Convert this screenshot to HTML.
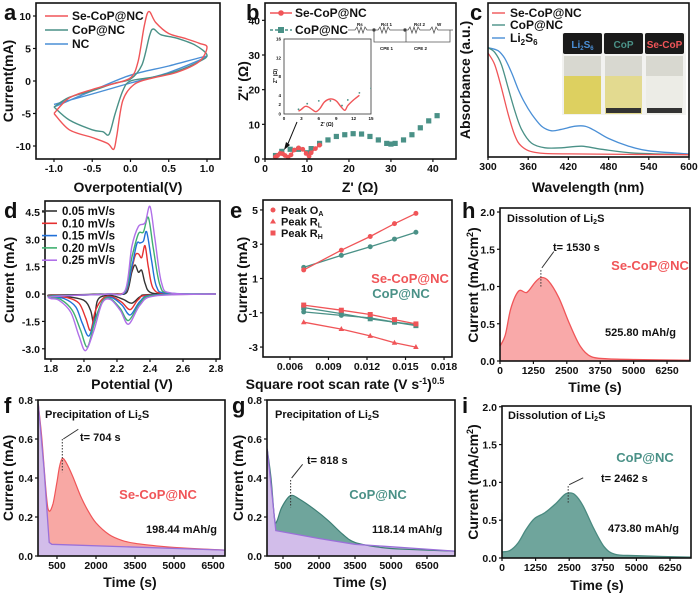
<!DOCTYPE html>
<html><head><meta charset="utf-8"><style>
html,body{margin:0;padding:0;background:#fff;}
svg{display:block;font-family:"Liberation Sans",Arial,sans-serif;}
text{font-weight:bold;}
</style></head><body>
<svg id="fig" width="700" height="596" viewBox="0 0 700 596"></svg>
<script>
// ---------- DATA ----------
const aSe=[[-1,-5],[-0.8,-2.6],[-0.5,-1.3],[-0.25,-0.5],[0,0.5],[0.1,3],[0.18,8.5],[0.24,10.7],[0.33,9],[0.5,7.3],[0.7,6.6],[0.9,5.8],[1,5.2],[0.9,3],[0.6,1.3],[0.3,0.5],[0.05,-0.5],[-0.1,-3],[-0.18,-8.5],[-0.22,-10.5],[-0.3,-9.6],[-0.5,-8.7],[-0.8,-7.5],[-1,-5]];
const aCo=[[-1,-4],[-0.8,-2.5],[-0.5,-1.5],[-0.2,-0.3],[0,0.3],[0.15,2.5],[0.25,7],[0.3,8],[0.4,7.1],[0.6,6.6],[0.85,5.5],[1,4],[0.9,3],[0.6,1.5],[0.3,0.6],[0,0],[-0.1,-1.5],[-0.2,-5],[-0.28,-8.2],[-0.36,-7.8],[-0.5,-7.5],[-0.8,-6],[-1,-4]];
const aNC=[[-1,-4],[-0.5,-1.5],[0,0.9],[0.5,2.3],[1,3.8],[0.5,1.3],[0,-0.3],[-0.5,-2],[-1,-3.6]];
const aXt=[-1,-0.5,0,0.5,1], aYt=[-10,-5,0,5,10];
const bSe=[[2.5,0.6],[3,1],[3.6,1.6],[4.2,1.5],[4.8,1],[5.5,0.5],[6.2,1.2],[7,2.6],[8,3.2],[9,2.8],[9.8,1.6],[10.5,0.8],[11,1.8],[12,3],[13,4]];
const bCo=[[2.5,1],[4,2.2],[6,2.8],[8,2.8],[10,1.8],[11,3],[13,4.5],[15,5.5],[17,6.5],[19,7],[21,7.3],[23,7.2],[25,6.5],[27,5.5],[29,4.5],[30,4.3],[31,4.5],[33,5.5],[35,7],[37,9],[39,11],[41,12.5]];
const bXt=[0,10,20,30,40], bYt=[0,10,20,30,40];
const cSe=[[300,0.675],[310,0.6],[320,0.45],[330,0.28],[340,0.14],[350,0.07],[370,0.03],[420,0.02],[600,0.015]];
const cCo=[[300,0.71],[310,0.68],[320,0.6],[330,0.45],[340,0.3],[350,0.18],[365,0.09],[385,0.06],[410,0.06],[440,0.07],[470,0.05],[520,0.025],[600,0.015]];
const cLi=[[300,0.71],[315,0.69],[325,0.64],[335,0.55],[345,0.44],[355,0.35],[365,0.28],[380,0.2],[395,0.17],[410,0.18],[430,0.2],[445,0.2],[460,0.17],[480,0.12],[510,0.07],[540,0.04],[600,0.02]];
const cXt=[300,360,420,480,540,600];
const d05=[[2.8,0],[2.4,-0.03],[2.34,-0.15],[2.29,-0.5],[2.24,-0.3],[2.18,-0.1],[2.12,-0.1],[2.08,-0.4],[2.06,-1.6],[2.04,-0.9],[2.0,-0.35],[1.9,-0.15],[1.8,-0.1],[1.8,-0.05],[2.0,-0.03],[2.1,0],[2.2,0],[2.26,0.1],[2.29,1.2],[2.31,1.6],[2.33,1.2],[2.35,1.3],[2.37,0.6],[2.4,0.1],[2.5,0],[2.8,0]];
const d10=[[2.8,0],[2.4,-0.05],[2.33,-0.3],[2.28,-0.85],[2.23,-0.45],[2.17,-0.15],[2.12,-0.2],[2.07,-0.9],[2.04,-2.0],[2.01,-1.3],[1.97,-0.5],[1.9,-0.2],[1.8,-0.12],[1.8,-0.08],[2.0,-0.05],[2.15,0],[2.25,0.1],[2.28,1.0],[2.31,2.1],[2.33,2.2],[2.35,2.0],[2.37,2.65],[2.39,1.5],[2.42,0.3],[2.5,0.02],[2.8,0]];
const d15=[[2.8,0],[2.42,-0.05],[2.34,-0.4],[2.28,-1.15],[2.23,-0.6],[2.17,-0.2],[2.12,-0.3],[2.07,-1.3],[2.03,-2.3],[1.99,-1.6],[1.95,-0.7],[1.88,-0.25],[1.8,-0.15],[1.8,-0.1],[2.0,-0.05],[2.15,0],[2.25,0.1],[2.29,1.5],[2.32,2.75],[2.34,2.8],[2.36,2.9],[2.38,3.4],[2.41,1.8],[2.44,0.4],[2.5,0.05],[2.8,0]];
const d20=[[2.8,0],[2.42,-0.08],[2.34,-0.5],[2.27,-1.45],[2.22,-0.8],[2.16,-0.25],[2.11,-0.4],[2.06,-1.7],[2.02,-2.9],[1.98,-2.0],[1.93,-0.9],[1.86,-0.3],[1.8,-0.2],[1.8,-0.12],[2.0,-0.05],[2.15,0],[2.25,0.15],[2.29,2.0],[2.33,3.3],[2.36,3.4],[2.39,4.2],[2.42,2.5],[2.46,0.5],[2.52,0.05],[2.8,0]];
const d25=[[2.8,0],[2.43,-0.1],[2.34,-0.6],[2.27,-1.65],[2.22,-0.9],[2.16,-0.3],[2.11,-0.5],[2.06,-2.0],[2.01,-3.1],[1.97,-2.3],[1.92,-1.0],[1.85,-0.35],[1.8,-0.25],[1.8,-0.15],[2.0,-0.05],[2.15,0],[2.25,0.2],[2.29,2.6],[2.33,3.7],[2.37,3.9],[2.40,4.8],[2.43,3.0],[2.47,0.6],[2.53,0.05],[2.8,0]];
const dXt=[1.8,2.0,2.2,2.4,2.6,2.8], dYt=[-3,-1.5,0,1.5,3,4.5];
const eX=[0.00707,0.01,0.01225,0.01414,0.01581];
const eSeOA=[1.5,2.65,3.45,4.2,4.8], eCoOA=[1.65,2.35,2.85,3.3,3.7];
const eSeRH=[-0.55,-0.85,-1.1,-1.4,-1.65], eCoRH=[-0.7,-1.05,-1.35,-1.55,-1.75];
const eCoRL=[-0.95,-1.15,-1.3,-1.55,-1.7], eSeRL=[-1.55,-1.95,-2.35,-2.75,-3.0];
const eXt=[0.006,0.009,0.012,0.015,0.018], eYt=[-3,-1,1,3,5];
const fCur=[[-220,0.78],[-80,0.6],[100,0.3],[200,0.23],[350,0.27],[500,0.38],[600,0.46],[704,0.5],[850,0.48],[1100,0.41],[1400,0.31],[1700,0.23],[2000,0.17],[2500,0.11],[3000,0.08],[3500,0.065],[4500,0.05],[5500,0.04],[6960,0.03]];
const fBg=[[-220,0.78],[0,0.45],[200,0.07],[300,0.06],[6960,0.03]];
const gCur=[[-160,0.55],[0,0.4],[150,0.19],[250,0.18],[450,0.25],[818,0.31],[1200,0.29],[1800,0.24],[2400,0.18],[3000,0.11],[3500,0.07],[4500,0.045],[5500,0.035],[7660,0.025]];
const gBg=[[-160,0.55],[200,0.13],[2000,0.09],[3500,0.06],[7660,0.025]];
const fXt=[500,2000,3500,5000,6500], fYt=[0,0.2,0.4,0.6,0.8];
const hCur=[[0,0.2],[200,0.35],[400,0.7],[700,0.94],[1000,0.92],[1300,1.05],[1530,1.12],[1800,1.08],[2200,0.85],[2600,0.5],[3000,0.2],[3400,0.06],[4000,0.03],[5000,0.02],[7100,0.01]];
const iCur=[[0,0.08],[300,0.1],[600,0.2],[900,0.38],[1200,0.52],[1600,0.6],[2000,0.72],[2300,0.83],[2462,0.86],[2700,0.84],[3000,0.7],[3400,0.4],[3800,0.15],[4200,0.05],[5000,0.03],[7030,0.01]];
const hXt=[0,1250,2500,3750,5000,6250], hYt=[0,0.5,1.0,1.5,2.0];

// ---------- HELPERS ----------
const NS='http://www.w3.org/2000/svg', svg=document.getElementById('fig');
function mk(tag,attrs,parent){const e=document.createElementNS(NS,tag);for(const k in attrs)e.setAttribute(k,attrs[k]);(parent||svg).appendChild(e);return e;}
function txt(s,x,y,size,opts){opts=opts||{};const t=mk('text',{x:x,y:y,'font-size':size,fill:opts.fill||'#111','text-anchor':opts.anchor||'start'});if(opts.rot)t.setAttribute('transform','rotate(-90 '+x+' '+y+')');t.innerHTML=s;return t;}
function axis(name,box,xd,yd,xt,yt,fx,fy){
  const [x0,x1,y0,y1]=box;
  const sx=v=>x0+(v-xd[0])/(xd[1]-xd[0])*(x1-x0);
  const sy=v=>y1-(v-yd[0])/(yd[1]-yd[0])*(y1-y0);
  const g=mk('g',{});
  
  
  xt.forEach(v=>{mk('line',{x1:sx(v),x2:sx(v),y1:y1,y2:y1+3,stroke:'#111','stroke-width':1.2},g);const t=txt(fx(v),sx(v),y1+13,10.5,{anchor:'middle'});g.appendChild(t);});
  yt.forEach(v=>{mk('line',{x1:x0-3,x2:x0,y1:sy(v),y2:sy(v),stroke:'#111','stroke-width':1.2},g);const t=txt(fy(v),x0-5,sy(v)+4,10.5,{anchor:'end'});g.appendChild(t);});
  return {sx,sy,box,frame:()=>{const r=mk('rect',{x:x0,y:y0,width:x1-x0,height:y1-y0,fill:'none',stroke:'#111','stroke-width':1.6});}};
}
function pathD(ax,pts){return pts.map((p,i)=>(i?'L':'M')+ax.sx(p[0]).toFixed(1)+' '+ax.sy(p[1]).toFixed(1)).join(' ');}
function smoothD(ax,pts){
  const P=pts.map(p=>[ax.sx(p[0]),ax.sy(p[1])]);let d='M'+P[0][0].toFixed(1)+' '+P[0][1].toFixed(1);
  for(let i=0;i<P.length-1;i++){const p0=P[i-1]||P[i],p1=P[i],p2=P[i+1],p3=P[i+2]||P[i+1];const t=0.16;
    d+=' C'+(p1[0]+(p2[0]-p0[0])*t).toFixed(1)+' '+(p1[1]+(p2[1]-p0[1])*t).toFixed(1)+' '+(p2[0]-(p3[0]-p1[0])*t).toFixed(1)+' '+(p2[1]-(p3[1]-p1[1])*t).toFixed(1)+' '+p2[0].toFixed(1)+' '+p2[1].toFixed(1);}
  return d;}
function line(ax,pts,color,w,name,straight){const p=mk('path',{d:straight?pathD(ax,pts):smoothD(ax,pts),fill:'none',stroke:color,'stroke-width':w||1.4,'stroke-linejoin':'round'});return p;}
function area(ax,pts,fill,stroke,name,base){const b=base||0;let d=smoothD(ax,pts)+' L'+ax.sx(pts[pts.length-1][0])+' '+ax.sy(b)+' L'+ax.sx(pts[0][0])+' '+ax.sy(b)+' Z';const p=mk('path',{d:d,fill:fill,stroke:'none'});mk('path',{d:smoothD(ax,pts),fill:'none',stroke:stroke,'stroke-width':1.3});return p;}
function label(s,x,y,size,name,opts){const t=txt(s,x,y,size,opts);return t;}
const f1=v=>v.toFixed(1), f0=v=>String(v), f3=v=>v.toFixed(3);
const RED='#f05558', TEAL='#4a9187', BLUE='#4a8fd6';
function clip(ax,id){const c=mk('clipPath',{id:id});mk('rect',{x:ax.box[0],y:ax.box[2],width:ax.box[1]-ax.box[0],height:ax.box[3]-ax.box[2]},c);const g=mk('g',{'clip-path':'url(#'+id+')'});return g;}

// ---------- PANEL A ----------
let A=axis('panel-a',[36,220,3,159],[-1.235,1.17],[-12,12],aXt,aYt,f1,f0);
line(A,aNC,BLUE,1.4,'nc-cv-curve');line(A,aCo,TEAL,1.4,'cop-nc-cv-curve');line(A,aSe,RED,1.4,'se-cop-nc-cv-curve');
A.frame();
[['Se-CoP@NC',RED],['CoP@NC',TEAL],['NC',BLUE]].forEach((l,i)=>{const y=16+i*14;mk('line',{x1:45,x2:68,y1:y,y2:y,stroke:l[1],'stroke-width':1.6});label(l[0],72,y+4,12,'legend-entry-a');});
label('a',4,20,22,'panel-label-a');
label('Overpotential(V)',128,192,14,'x-axis-title-a',{anchor:'middle'});
label('Current(mA)',13,81,14,'y-axis-title-a',{anchor:'middle',rot:1});

// ---------- PANEL B ----------
let B=axis('panel-b',[265,456,3,159],[0,45.5],[0,45],bXt,bYt,f0,f0);
function markers(ax,pts,color,shape,r,name){pts.forEach(p=>{const x=ax.sx(p[0]),y=ax.sy(p[1]);let m;if(shape==='s')m=mk('rect',{x:x-r,y:y-r,width:2*r,height:2*r,fill:color});else if(shape==='t')m=mk('path',{d:`M${x} ${y-r*1.2} L${x+r*1.1} ${y+r*0.8} L${x-r*1.1} ${y+r*0.8} Z`,fill:color});else m=mk('circle',{cx:x,cy:y,r:r,fill:color});});}
markers(B,bCo,TEAL,'s',2.6,'cop-nc-nyquist-point');
line(B,bSe,RED,1.6,'se-cop-nc-nyquist-line');
markers(B,bSe,RED,'c',2.4,'se-cop-nc-nyquist-point');
B.frame();
mk('line',{x1:297,x2:287,y1:122,y2:146,stroke:'#111','stroke-width':1});
mk('path',{d:'M284 150 L286 142 L290 145 Z',fill:'#111'});
let BI=axis('panel-b-inset',[284,371,39,114],[0,15],[0,16],[],[],f0,f0);
mk('rect',{x:284,y:39,width:87,height:75,fill:'#fff',stroke:'#333','stroke-width':0.8});
[0,3,6,9,12,15].forEach(v=>{label(String(v),BI.sx(v),120,4.5,'inset-x-tick',{anchor:'middle'});});
[0,2,4,8,12,16].forEach(v=>{label(String(v),281,BI.sy(v)+1.5,4.5,'inset-y-tick',{anchor:'end'});});
label("Z' (Ω)",327,126,5,'inset-x-title',{anchor:'middle'});
label("Z'' (Ω)",277,76,5,'inset-y-title',{anchor:'middle',rot:1});
{const g=clip(BI,'cbi');bCo.forEach(p=>{const c=mk('circle',{cx:BI.sx(p[0]),cy:BI.sy(p[1]),r:0.9,fill:TEAL},g);});
const l=mk('path',{d:smoothD(BI,bSe),fill:'none',stroke:RED,'stroke-width':1.4},g);}
mk('line',{x1:270,x2:292,y1:13,y2:13,stroke:RED,'stroke-width':1.4});mk('circle',{cx:281,cy:13,r:2.8,fill:RED});
label('Se-CoP@NC',295,17,12,'legend-entry-b');
mk('line',{x1:270,x2:292,y1:30,y2:30,stroke:TEAL,'stroke-width':1.4,'stroke-dasharray':'3 2'});mk('rect',{x:278,y:27,width:6,height:6,fill:TEAL});
label('CoP@NC',295,34,12,'legend-entry-b');
{const g=mk('g',{stroke:'#555','stroke-width':0.8,fill:'none'});
mk('path',{d:'M348 30 H355 l2-3 l2 6 l2-6 l2 6 l2-6 l2 3 H372 H378 l2-3 l2 6 l2-6 l2 6 l2-6 l2 3 H404 M374 30 V42 H406 V30 M404 30 H408 l2-3 l2 6 l2-6 l2 6 l2-6 l2 3 H430 l2-3 l2 6 l2-6 l2 3 H453 M406 30 V42 H450 V30'},g);
mk('circle',{cx:374,cy:30,r:1.3,fill:'#333'},g);mk('circle',{cx:405,cy:30,r:1.3,fill:'#333'},g);
[['Rs',357,26],['Rct 1',381,26],['Rct 2',414,26],['W',437,26],['CPE 1',380,50],['CPE 2',414,50]].forEach(l=>label(l[0],l[1],l[2],4.5,'circuit-label'));}
label('b',246,20,22,'panel-label-b');
label("Z' (Ω)",360,192,14,'x-axis-title-b',{anchor:'middle'});
label("Z'' (Ω)",248,81,14,'y-axis-title-b',{anchor:'middle',rot:1});

// ---------- PANEL C ----------
let C=axis('panel-c',[488,689,3,157],[300,600],[0,1],cXt,[],f0,f0);
line(C,cLi,BLUE,1.3,'li2s6-absorbance-curve');line(C,cCo,TEAL,1.3,'cop-nc-absorbance-curve');line(C,cSe,RED,1.3,'se-cop-nc-absorbance-curve');
C.frame();
{const g=mk('g',{});
mk('rect',{x:562,y:33,width:124,height:82,fill:'#f2f2f0'},g);
[[563,'Li<tspan font-size="6" dy="2">2</tspan><tspan dy="-2">S</tspan><tspan font-size="6" dy="2">6</tspan>',BLUE,'#ddd060','#c8c070',false],[604,'CoP',TEAL,'#e3da90','#d8d29a',true],[645,'Se-CoP',RED,'#ecece6','#e6e6e0',true]].forEach(v=>{
mk('rect',{x:v[0],y:33,width:39,height:21,fill:'#1a1a1a',rx:2},g);
mk('rect',{x:v[0]+1,y:56,width:37,height:20,fill:'#d8d8d0'},g);
mk('rect',{x:v[0]+1,y:76,width:37,height:38,fill:v[3]},g);
if(v[5])mk('rect',{x:v[0]+2,y:108,width:35,height:5,fill:'#333'},g);
const t=label(v[1],v[0]+19.5,48,10,'vial-label',{anchor:'middle',fill:v[2]});g.appendChild(t);});}
label('Se-CoP@NC',510,17,12,'legend-entry-c');mk('line',{x1:492,x2:505,y1:13,y2:13,stroke:RED,'stroke-width':1.4});
label('CoP@NC',510,29,12,'legend-entry-c');mk('line',{x1:492,x2:505,y1:25,y2:25,stroke:TEAL,'stroke-width':1.4});
label('Li<tspan font-size="8" dy="3">2</tspan><tspan dy="-3">S</tspan><tspan font-size="8" dy="3">6</tspan>',510,42,12,'legend-entry-c');mk('line',{x1:492,x2:505,y1:38,y2:38,stroke:BLUE,'stroke-width':1.4});
label('c',470,20,22,'panel-label-c');
label('Wavelength (nm)',588,192,14,'x-axis-title-c',{anchor:'middle'});
label('Absorbance (a.u.)',470,80,14,'y-axis-title-c',{anchor:'middle',rot:1});

// ---------- PANEL D ----------
let D=axis('panel-d',[45,220,201,359],[1.764,2.824],[-3.56,5.1],dXt,dYt,f1,f1);
const dCols=['#333','#e53030','#2070d8','#40b070','#b070e8'];
const dNames=['0.05 mV/s','0.10 mV/s','0.15 mV/s','0.20 mV/s','0.25 mV/s'];
[d05,d10,d15,d20,d25].forEach((s,i)=>line(D,s,dCols[i],1.4,'cv-curve-'+(i+1)));
D.frame();
dNames.forEach((n,i)=>{const y=211+i*12.3;mk('line',{x1:42,x2:57,y1:y,y2:y,stroke:dCols[i],'stroke-width':1.6});label(n,62,y+4,11.5,'legend-entry-d');});
label('d',4,218,22,'panel-label-d');
label('Potential (V)',132,389,14,'x-axis-title-d',{anchor:'middle'});
label('Current (mA)',14,280,14,'y-axis-title-d',{anchor:'middle',rot:1});

// ---------- PANEL E ----------
let E=axis('panel-e',[263,452,200,357],[0.0039,0.01862],[-3.58,5.58],eXt,eYt,f3,f0);
[[eCoOA,TEAL,'c'],[eSeOA,RED,'c'],[eCoRH,TEAL,'s'],[eCoRL,TEAL,'c'],[eSeRH,RED,'s'],[eSeRL,RED,'t']].forEach((s,i)=>{const pts=eX.map((x,j)=>[x,s[0][j]]);line(E,pts,s[1],1.3,'fit-line-'+i,true);markers(E,pts,s[1],s[2],2.5,'peak-point');});
E.frame();
[['c','Peak O<tspan font-size="7" dy="2">A</tspan>'],['t','Peak R<tspan font-size="7" dy="2">L</tspan>'],['s','Peak R<tspan font-size="7" dy="2">H</tspan>']].forEach((l,i)=>{const y=210+i*11.5;const x=273;if(l[0]==='c')mk('circle',{cx:x,cy:y,r:2.5,fill:RED});else if(l[0]==='t')mk('path',{d:`M${x} ${y-3} L${x+3} ${y+2} L${x-3} ${y+2} Z`,fill:RED});else mk('rect',{x:x-2.5,y:y-2.5,width:5,height:5,fill:RED});label(l[1],281,y+4,11,'legend-entry-e');});
label('Se-CoP@NC',410,283,13,'series-label-e',{anchor:'middle',fill:RED});
label('CoP@NC',401,298,13,'series-label-e',{anchor:'middle',fill:TEAL});
label('e',230,218,22,'panel-label-e');
label('Square root scan rate (V s<tspan font-size="9" dy="-5">-1</tspan><tspan dy="5">)</tspan><tspan font-size="9" dy="-5">0.5</tspan>',345,389,14,'x-axis-title-e',{anchor:'middle'});
label('Current (mA)',247,280,14,'y-axis-title-e',{anchor:'middle',rot:1});

// ---------- PANEL H ----------
let H=axis('panel-h',[500,690,208,361],[0,7110],[0,2.054],hXt,hYt,f0,f1);
area(H,hCur,'#f9a9a9',RED,'se-cop-nc-dissolution-area');
mk('line',{x1:H.sx(0),x2:H.sx(0),y1:H.sy(0.75),y2:H.sy(0.2),stroke:RED,'stroke-width':1.2});
H.frame();
mk('line',{x1:H.sx(1530),x2:H.sx(1530),y1:H.sy(1.22),y2:H.sy(1.0),stroke:'#333','stroke-width':1,'stroke-dasharray':'1.5 1.5'});
mk('line',{x1:H.sx(1530)+1,x2:H.sx(1530)+13,y1:H.sy(1.25),y2:H.sy(1.47),stroke:'#333','stroke-width':1});
label('Dissolution of Li<tspan font-size="7" dy="2">2</tspan><tspan dy="-2">S</tspan>',507,222,11,'annotation-h');
label('t= 1530 s',553,251,11,'peak-time-h');
label('Se-CoP@NC',650,270,13,'series-label-h',{anchor:'middle',fill:RED});
label('525.80 mAh/g',605,336,11,'capacity-h');
label('h',462,218,22,'panel-label-h');
label('Time (s)',595,392,14,'x-axis-title-h',{anchor:'middle'});
label('Current (mA/cm<tspan font-size="9" dy="-5">2</tspan><tspan dy="5">)</tspan>',478,285,14,'y-axis-title-h',{anchor:'middle',rot:1});

// ---------- PANEL F ----------
let F=axis('panel-f',[38,225,400,556],[-230,6960],[0,0.8],fXt,fYt,f0,f1);
{const g=clip(F,'cf');
let p1=mk('path',{d:smoothD(F,fCur)+` L${F.sx(6960)} ${F.sy(0)} L${F.sx(-230)} ${F.sy(0)} Z`,fill:'#f8a8a4'},g);
let p2=mk('path',{d:pathD(F,fBg)+` L${F.sx(6960)} ${F.sy(0)} L${F.sx(-230)} ${F.sy(0)} Z`,fill:'#d2bdea'},g);
mk('path',{d:smoothD(F,fCur),fill:'none',stroke:RED,'stroke-width':1.2},g);mk('path',{d:pathD(F,fBg),fill:'none',stroke:'#9a70d8','stroke-width':1.3},g);}
F.frame();
mk('line',{x1:F.sx(704),x2:F.sx(704),y1:F.sy(0.6),y2:F.sy(0.43),stroke:'#333','stroke-width':1,'stroke-dasharray':'1.5 1.5'});
mk('line',{x1:F.sx(704)+1,x2:F.sx(704)+16,y1:F.sy(0.6),y2:F.sy(0.65),stroke:'#333','stroke-width':1});
label('Precipitation of Li<tspan font-size="7" dy="2">2</tspan><tspan dy="-2">S</tspan>',45,418,11,'annotation-f');
label('t= 704 s',80,441,11,'peak-time-f');
label('Se-CoP@NC',158,499,13,'series-label-f',{anchor:'middle',fill:RED});
label('198.44 mAh/g',146,533,11,'capacity-f');
label('f',4,413,22,'panel-label-f');
label('Time (s)',130,587,14,'x-axis-title-f',{anchor:'middle'});
label('Current (mA)',13,478,14,'y-axis-title-f',{anchor:'middle',rot:1});

// ---------- PANEL G ----------
let G=axis('panel-g',[267,455,400,556],[-167,7667],[0,0.8],fXt,fYt,f0,f1);
{const g=clip(G,'cg');
let p1=mk('path',{d:smoothD(G,gCur)+` L${G.sx(7667)} ${G.sy(0)} L${G.sx(-167)} ${G.sy(0)} Z`,fill:'#6fa59c'},g);
let p2=mk('path',{d:pathD(G,gBg)+` L${G.sx(7667)} ${G.sy(0)} L${G.sx(-167)} ${G.sy(0)} Z`,fill:'#d2bdea'},g);
mk('path',{d:smoothD(G,gCur),fill:'none',stroke:'#3d7f75','stroke-width':1.2},g);mk('path',{d:pathD(G,gBg),fill:'none',stroke:'#9a70d8','stroke-width':1.3},g);}
G.frame();
mk('line',{x1:G.sx(818),x2:G.sx(818),y1:G.sy(0.39),y2:G.sy(0.25),stroke:'#333','stroke-width':1,'stroke-dasharray':'1.5 1.5'});
mk('line',{x1:G.sx(818)+1,x2:G.sx(818)+12,y1:G.sy(0.4),y2:G.sy(0.47),stroke:'#333','stroke-width':1});
label('Precipitation of Li<tspan font-size="7" dy="2">2</tspan><tspan dy="-2">S</tspan>',275,418,11,'annotation-g');
label('t= 818 s',307,464,11,'peak-time-g');
label('CoP@NC',378,499,13,'series-label-g',{anchor:'middle',fill:TEAL});
label('118.14 mAh/g',372,533,11,'capacity-g');
label('g',232,413,22,'panel-label-g');
label('Time (s)',360,587,14,'x-axis-title-g',{anchor:'middle'});
label('Current (mA)',243,478,14,'y-axis-title-g',{anchor:'middle',rot:1});

// ---------- PANEL I ----------
let I=axis('panel-i',[502,691,406,558],[0,7031],[0,2.01],hXt,hYt,f0,f1);
area(I,iCur,'#6fa59c','#4a8a80','cop-nc-dissolution-area');
mk('line',{x1:I.sx(0),x2:I.sx(0),y1:I.sy(0.6),y2:I.sy(0.08),stroke:TEAL,'stroke-width':1.2});
I.frame();
mk('line',{x1:I.sx(2462),x2:I.sx(2462),y1:I.sy(0.95),y2:I.sy(0.72),stroke:'#333','stroke-width':1,'stroke-dasharray':'1.5 1.5'});
mk('line',{x1:I.sx(2462)+1,x2:I.sx(2462)+15,y1:I.sy(0.97),y2:I.sy(1.06),stroke:'#333','stroke-width':1});
label('Dissolution of Li<tspan font-size="7" dy="2">2</tspan><tspan dy="-2">S</tspan>',508,419,11,'annotation-i');
label('t= 2462 s',601,482,11,'peak-time-i');
label('CoP@NC',645,462,13,'series-label-i',{anchor:'middle',fill:TEAL});
label('473.80 mAh/g',608,532,11,'capacity-i');
label('i',462,413,22,'panel-label-i');
label('Time (s)',597,590,14,'x-axis-title-i',{anchor:'middle'});
label('Current (mA/cm<tspan font-size="9" dy="-5">2</tspan><tspan dy="5">)</tspan>',478,482,14,'y-axis-title-i',{anchor:'middle',rot:1});
</script>
</body></html>
